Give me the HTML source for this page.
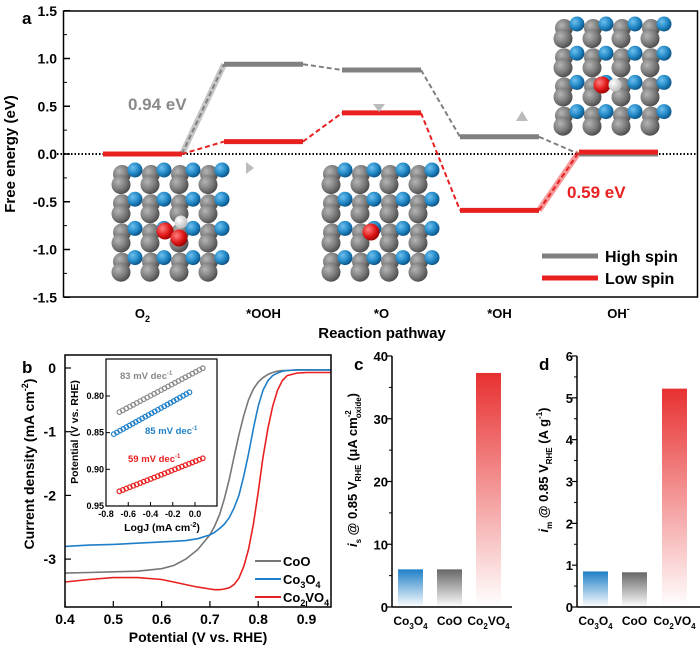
<!DOCTYPE html>
<html><head><meta charset="utf-8">
<style>
body{margin:0;background:#fff;}
svg{display:block;font-family:"Liberation Sans",sans-serif;font-weight:bold;}
</style></head>
<body>
<svg id="s" width="700" height="647" viewBox="0 0 700 647" xmlns="http://www.w3.org/2000/svg">
<defs>
<radialGradient id="gG" cx="0.35" cy="0.35" r="0.7"><stop offset="0" stop-color="#b5b5b5"/><stop offset="0.6" stop-color="#7a7a7a"/><stop offset="1" stop-color="#4a4a4a"/></radialGradient>
<radialGradient id="gB" cx="0.35" cy="0.35" r="0.7"><stop offset="0" stop-color="#6fc0ee"/><stop offset="0.6" stop-color="#1f86c4"/><stop offset="1" stop-color="#0d4f80"/></radialGradient>
<radialGradient id="gR" cx="0.35" cy="0.35" r="0.7"><stop offset="0" stop-color="#ff8080"/><stop offset="0.6" stop-color="#e01818"/><stop offset="1" stop-color="#900"/></radialGradient>
<radialGradient id="gW" cx="0.35" cy="0.35" r="0.7"><stop offset="0" stop-color="#fff"/><stop offset="1" stop-color="#bbb"/></radialGradient>
<linearGradient id="barB" x1="0" y1="0" x2="0" y2="1"><stop offset="0" stop-color="#1f7fc8"/><stop offset="1" stop-color="#1f7fc8" stop-opacity="0"/></linearGradient>
<linearGradient id="barG" x1="0" y1="0" x2="0" y2="1"><stop offset="0" stop-color="#666"/><stop offset="1" stop-color="#666" stop-opacity="0"/></linearGradient>
<linearGradient id="barR" x1="0" y1="0" x2="0" y2="1"><stop offset="0" stop-color="#e83030"/><stop offset="1" stop-color="#e83030" stop-opacity="0"/></linearGradient>
</defs>
<g id="ga"></g>
<g id="gb"></g>
<g id="gc"></g>
<g id="gd"></g>
</svg>
<script>
// ---- Panel a data
const steps = ["O2","*OOH","*O","*OH","OH-"];
const highSpin = [0, 0.94, 0.88, 0.18, 0];
const lowSpin = [0, 0.13, 0.43, -0.59, 0.02];
const aTicks = [1.5,1.0,0.5,0.0,-0.5,-1.0,-1.5];
// ---- Panel b data
const bX = [0.4,0.45,0.5,0.55,0.6,0.625,0.65,0.675,0.7,0.71,0.72,0.73,0.74,0.75,0.76,0.77,0.78,0.79,0.8,0.81,0.82,0.83,0.84,0.85,0.86,0.88,0.9,0.95];
const cooY = [-3.22,-3.21,-3.2,-3.19,-3.15,-3.1,-3.0,-2.85,-2.62,-2.48,-2.3,-2.05,-1.75,-1.4,-1.05,-0.75,-0.5,-0.33,-0.22,-0.15,-0.1,-0.07,-0.05,-0.04,-0.04,-0.03,-0.03,-0.03];
const co3o4Y = [-2.8,-2.78,-2.77,-2.75,-2.73,-2.72,-2.71,-2.68,-2.62,-2.58,-2.52,-2.45,-2.35,-2.2,-2.0,-1.7,-1.35,-0.95,-0.6,-0.35,-0.2,-0.12,-0.08,-0.05,-0.04,-0.03,-0.03,-0.03];
const co2vo4Y = [-3.36,-3.32,-3.29,-3.29,-3.32,-3.36,-3.4,-3.44,-3.47,-3.48,-3.48,-3.47,-3.45,-3.4,-3.3,-3.12,-2.85,-2.45,-1.95,-1.4,-0.95,-0.6,-0.35,-0.2,-0.12,-0.08,-0.07,-0.07];
const bXTicks = [0.4,0.5,0.6,0.7,0.8,0.9];
const bYTicks = [0,-1,-2,-3];
// inset (Tafel) endpoints
const tafelCoO = [[-0.68,0.822],[0.07,0.762]];
const tafelCo3O4 = [[-0.73,0.852],[-0.05,0.795]];
const tafelCo2VO4 = [[-0.68,0.93],[0.07,0.885]];
const insetXTicks = [-0.8,-0.6,-0.4,-0.2,0.0];
const insetYTicks = [0.80,0.85,0.90,0.95];
// ---- Panels c, d data
const barCats = ["Co3O4","CoO","Co2VO4"];
const isVals = [6.0, 6.0, 37.3];
const imVals = [0.85, 0.83, 5.22];
const cTicks = [0,10,20,30,40];
const dTicks = [0,1,2,3,4,5,6];

const NS="http://www.w3.org/2000/svg";
function mk(parent,tag,attrs,txt){const e=document.createElementNS(NS,tag);for(const k in attrs)e.setAttribute(k,attrs[k]);if(txt!==undefined)e.innerHTML=txt;parent.appendChild(e);return e;}
const ga=document.getElementById('ga'),gb=document.getElementById('gb'),gc=document.getElementById('gc'),gd=document.getElementById('gd');

// ===== Panel a
const aY=v=>154-v*95.5;
const lvlX=[[103,182],[224,303],[342,421],[460,539],[579,658]];
let t;
t=mk(ga,'text',{x:22,y:24,'font-size':17},'a');

t=mk(ga,'line',{x1:57,y1:154,x2:697,y2:154,stroke:'#000','stroke-width':2,'stroke-dasharray':'1.5 2'});

function mol(ox,oy,name,reds,whites){
  const g=mk(ga,'g',{});
  
  for(let r=0;r<8;r++){
    const y=oy+r*14.6;
    for(let j=0;j<4;j++){
      if(r%2===0){mk(g,'circle',{cx:ox+14+j*29,cy:y+4,r:9,fill:'url(#gG)'});mk(g,'circle',{cx:ox+27+j*29,cy:y,r:7.5,fill:'url(#gB)'});}
      else{mk(g,'circle',{cx:ox+13+j*29,cy:y,r:9.5,fill:'url(#gG)'});}
    }
  }
  reds.forEach(p=>mk(g,'circle',{cx:p[0],cy:p[1],r:8.5,fill:'url(#gR)'}));
  whites.forEach(p=>mk(g,'circle',{cx:p[0],cy:p[1],r:6.5,fill:'url(#gW)'}));
}
mol(108,170,'ooh-structure',[[165,231]],[[181,222]]);
mk(ga,'circle',{cx:179,cy:238,r:8.5,fill:'url(#gR)'});
mol(318,170,'o-structure',[[371,232]],[]);
mol(550,24,'oh-structure',[[602,85]],[[615,85]]);
function conn(series,color,thickIdx){
  for(let i=0;i<4;i++){
    const x1=lvlX[i][1],y1=aY(series[i]),x2=lvlX[i+1][0],y2=aY(series[i+1]);
    if(i===thickIdx){
      t=mk(ga,'line',{x1,y1,x2,y2,stroke:color,'stroke-width':6,'stroke-opacity':0.45});
      
      mk(ga,'line',{x1,y1,x2,y2,stroke:color,'stroke-width':2,'stroke-dasharray':'5 3'});
    } else {
      t=mk(ga,'line',{x1,y1,x2,y2,stroke:color,'stroke-width':2,'stroke-dasharray':'5 3'});
      
    }
  }
}
conn(highSpin,'#808080',0);
conn(lowSpin,'#e82020',3);
highSpin.forEach((v,i)=>{t=mk(ga,'line',{x1:lvlX[i][0],y1:aY(v),x2:lvlX[i][1],y2:aY(v),stroke:'#808080','stroke-width':5});});
lowSpin.forEach((v,i)=>{t=mk(ga,'line',{x1:lvlX[i][0],y1:aY(v),x2:lvlX[i][1],y2:aY(v),stroke:'#e82020','stroke-width':5});});
[[246,168,'M0 -6 L8 0 L0 6 Z'],[379,104,'M-6 0 L0 8 L6 0 Z'],[522,115,'M-6 6 L0 -4 L6 6 Z']].forEach(a=>{t=mk(ga,'path',{d:a[2],transform:'translate('+a[0]+','+a[1]+')',fill:'#bbb'});});
t=mk(ga,'text',{x:128,y:110,'font-size':17,fill:'#8a8a8a'},'0.94 eV');
t=mk(ga,'text',{x:567,y:198,'font-size':17,fill:'#e82020'},'0.59 eV');
t=mk(ga,'rect',{x:63.5,y:11,width:634,height:286,fill:'none',stroke:'#000','stroke-width':1.5});
aTicks.forEach(v=>{mk(ga,'line',{x1:64,y1:aY(v),x2:70,y2:aY(v),stroke:'#000','stroke-width':1.5});t=mk(ga,'text',{x:57,y:aY(v)+5,'font-size':14,'text-anchor':'end'},v.toFixed(1));});
for(let v=-1.25;v<1.5;v+=0.5)mk(ga,'line',{x1:64,y1:aY(v),x2:67,y2:aY(v),stroke:'#000','stroke-width':1});
const stepLbl=['O<tspan font-size="9" dy="4">2</tspan>','*OOH','*O','*OH','OH<tspan font-size="9" dy="-6">-</tspan>'];
stepLbl.forEach((s,i)=>{t=mk(ga,'text',{x:(lvlX[i][0]+lvlX[i][1])/2,y:318,'font-size':13,'text-anchor':'middle'},s);});
t=mk(ga,'text',{x:382,y:338,'font-size':15,'text-anchor':'middle'},'Reaction pathway');
t=mk(ga,'text',{x:0,y:0,'font-size':15,'text-anchor':'middle',transform:'translate(15,154) rotate(-90)'},'Free energy (eV)');
t=mk(ga,'line',{x1:542,y1:256,x2:598,y2:256,stroke:'#808080','stroke-width':5});
mk(ga,'text',{x:605,y:262,'font-size':16},'High spin');
t=mk(ga,'line',{x1:542,y1:278,x2:598,y2:278,stroke:'#e82020','stroke-width':5});
mk(ga,'text',{x:605,y:284,'font-size':16},'Low spin');

// ===== Panel b
const bx=v=>65+(v-0.4)*483, by=v=>368-v*63.7;
t=mk(gb,'text',{x:22,y:373,'font-size':17},'b');
function curve(ys,color,name){let d='';bX.forEach((x,i)=>{d+=(i?'L':'M')+bx(x).toFixed(1)+' '+by(ys[i]).toFixed(1);});t=mk(gb,'path',{d,fill:'none',stroke:color,'stroke-width':1.6,'stroke-linejoin':'round'});}
curve(cooY,'#777','coo-curve');curve(co3o4Y,'#1f7fc8','co3o4-curve');curve(co2vo4Y,'#e82020','co2vo4-curve');
t=mk(gb,'rect',{x:65,y:355,width:266,height:252,fill:'none',stroke:'#000','stroke-width':1.5});
bXTicks.forEach(v=>{mk(gb,'line',{x1:bx(v),y1:607,x2:bx(v),y2:601,stroke:'#000','stroke-width':1.2});t=mk(gb,'text',{x:bx(v),y:624,'font-size':14,'text-anchor':'middle'},v.toFixed(1));});
bYTicks.forEach(v=>{mk(gb,'line',{x1:65,y1:by(v),x2:71,y2:by(v),stroke:'#000','stroke-width':1.2});t=mk(gb,'text',{x:56,y:by(v)+5,'font-size':14,'text-anchor':'end'},v===0?'0':String(v));});
t=mk(gb,'text',{x:198,y:642,'font-size':14,'text-anchor':'middle'},'Potential (V vs. RHE)');
t=mk(gb,'text',{x:0,y:0,'font-size':14,'text-anchor':'middle',transform:'translate(34,464) rotate(-90)'},'Current density (mA cm<tspan font-size="9" dy="-6">-2</tspan><tspan dy="6">)</tspan>');
[['#777','CoO',561],['#1f7fc8','Co<tspan font-size="9" dy="4">3</tspan><tspan dy="-4">O</tspan><tspan font-size="9" dy="4">4</tspan>',579],['#e82020','Co<tspan font-size="9" dy="4">2</tspan><tspan dy="-4">VO</tspan><tspan font-size="9" dy="4">4</tspan>',597]].forEach(l=>{t=mk(gb,'line',{x1:255,y1:l[2],x2:281,y2:l[2],stroke:l[0],'stroke-width':2});mk(gb,'text',{x:283,y:l[2]+5,'font-size':13},l[1]);});
const ix=v=>106+(v+0.8)*111.25, iy=v=>396+(v-0.8)*733;
t=mk(gb,'rect',{x:106,y:359,width:111,height:147,fill:'#fff',stroke:'#000','stroke-width':1.2});
function tafel(seg,color,name){const g=mk(gb,'g',{});const n=24;for(let k=0;k<=n;k++){const x=seg[0][0]+(seg[1][0]-seg[0][0])*k/n,y=seg[0][1]+(seg[1][1]-seg[0][1])*k/n;mk(g,'circle',{cx:ix(x),cy:iy(y),r:2.3,fill:'none',stroke:color,'stroke-width':1.2});}}
tafel(tafelCoO,'#888','tafel-coo');tafel(tafelCo3O4,'#1f7fc8','tafel-co3o4');tafel(tafelCo2VO4,'#e82020','tafel-co2vo4');
mk(gb,'text',{x:120,y:379,'font-size':9.5,fill:'#888'},'83 mV dec<tspan font-size="6" dy="-4">-1</tspan>');
mk(gb,'text',{x:145,y:434,'font-size':9.5,fill:'#1f7fc8'},'85 mV dec<tspan font-size="6" dy="-4">-1</tspan>');
mk(gb,'text',{x:128,y:462,'font-size':9.5,fill:'#e82020'},'59 mV dec<tspan font-size="6" dy="-4">-1</tspan>');
insetXTicks.forEach(v=>{mk(gb,'line',{x1:ix(v),y1:506,x2:ix(v),y2:502,stroke:'#000'});t=mk(gb,'text',{x:ix(v),y:517,'font-size':9,'text-anchor':'middle'},v.toFixed(1));});
insetYTicks.forEach(v=>{mk(gb,'line',{x1:106,y1:iy(v),x2:110,y2:iy(v),stroke:'#000'});t=mk(gb,'text',{x:104,y:iy(v)+3,'font-size':9,'text-anchor':'end'},v.toFixed(2));});
mk(gb,'text',{x:162,y:531,'font-size':10.5,'text-anchor':'middle'},'LogJ (mA cm<tspan font-size="7" dy="-4">-2</tspan><tspan dy="4">)</tspan>');
mk(gb,'text',{x:0,y:0,'font-size':10.5,'text-anchor':'middle',transform:'translate(78,432) rotate(-90)'},'Potential (V vs. RHE)');

// ===== Bars c, d
const catLbl=['Co<tspan font-size="8" dy="4">3</tspan><tspan dy="-4">O</tspan><tspan font-size="8" dy="4">4</tspan>','CoO','Co<tspan font-size="8" dy="4">2</tspan><tspan dy="-4">VO</tspan><tspan font-size="8" dy="4">4</tspan>'];
const fills=['url(#barB)','url(#barG)','url(#barR)'];
function barPanel(g,left,width,vals,ticks,max,barX,letter,title,lx,tx){
  const y=v=>607-v/max*251;
  t=mk(g,'text',{x:lx,y:370,'font-size':17},letter);
  vals.forEach((v,i)=>{t=mk(g,'rect',{x:barX[i],y:y(v),width:25,height:607-y(v),fill:fills[i]});
    t=mk(g,'text',{x:barX[i]+12.5,y:625,'font-size':12,'text-anchor':'middle'},catLbl[i]);});
  mk(g,'line',{x1:left,y1:356,x2:left,y2:607.5,stroke:'#000','stroke-width':1.5});
  mk(g,'line',{x1:left,y1:607,x2:left+width,y2:607,stroke:'#000','stroke-width':1.5});
  ticks.forEach(v=>{mk(g,'line',{x1:left-5,y1:y(v),x2:left,y2:y(v),stroke:'#000','stroke-width':1.2});t=mk(g,'text',{x:left-4,y:y(v)+5,'font-size':13,'text-anchor':'end'},String(v));});
  for(let i=0;i<ticks.length-1;i++){const m=(ticks[i]+ticks[i+1])/2;mk(g,'line',{x1:left-3,y1:y(m),x2:left,y2:y(m),stroke:'#000'});}
  t=mk(g,'text',{x:0,y:0,'font-size':13,'text-anchor':'middle',transform:'translate('+tx+',470) rotate(-90)'},title);
}
barPanel(gc,392,120,isVals,cTicks,40,[398,437,476],'c','<tspan font-style="italic">i</tspan><tspan font-size="8" dy="4">s</tspan><tspan dy="-4"> @ 0.85 V</tspan><tspan font-size="8" dy="4">RHE</tspan><tspan dy="-4"> (μA cm</tspan><tspan font-size="8" dy="-6">-2</tspan><tspan font-size="8" dy="10" dx="-8">oxide</tspan><tspan dy="-4">)</tspan>',354,357);
barPanel(gd,577,123,imVals,dTicks,6,[583,622,662],'d','<tspan font-style="italic">i</tspan><tspan font-size="8" dy="4">m</tspan><tspan dy="-4"> @ 0.85 V</tspan><tspan font-size="8" dy="4">RHE</tspan><tspan dy="-4"> (A g</tspan><tspan font-size="8" dy="-6">-1</tspan><tspan dy="6">)</tspan>',539,548);
</script>
</body></html>
